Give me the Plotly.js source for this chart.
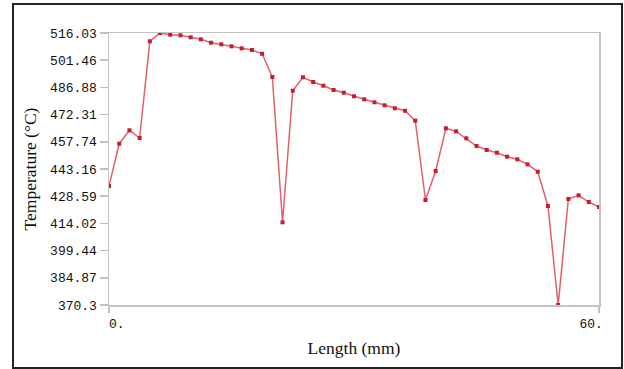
<!DOCTYPE html>
<html>
<head>
<meta charset="utf-8">
<script src="https://cdn.plot.ly/plotly-3.0.1.min.js"></script>
<style>
  html, body { margin: 0; padding: 0; background: #fff; }
  #wrap { position: relative; width: 624px; height: 369px; }
  #chart { position: absolute; left: 0; top: 0; width: 624px; height: 369px; }
  #frame { position: absolute; left: 12px; top: 3px; width: 611px; height: 366px;
           box-sizing: border-box; border: 2px solid #222; pointer-events: none; }
</style>
</head>
<body>
<div id="wrap">
  <div id="chart"></div>
  <div id="frame"></div>
</div>
<script>
// Length positions (mm), 49 samples across 0..60
const lengthMm = [0, 1.25, 2.5, 3.75, 5, 6.25, 7.5, 8.75, 10, 11.25, 12.5, 13.75, 15, 16.25, 17.5, 18.75,
  20, 21.25, 22.5, 23.75, 25, 26.25, 27.5, 28.75, 30, 31.25, 32.5, 33.75, 35, 36.25, 37.5, 38.75,
  40, 41.25, 42.5, 43.75, 45, 46.25, 47.5, 48.75, 50, 51.25, 52.5, 53.75, 55, 56.25, 57.5, 58.75, 60];

// Temperature (°C)
const temperatureC = [434.06, 456.72, 463.90, 459.77, 511.58, 516.03, 515.12, 514.80, 513.73, 512.65,
  510.83, 509.98, 508.90, 507.83, 506.92, 504.89, 492.46, 414.61, 485.12, 492.30,
  489.78, 487.79, 485.49, 484.04, 482.12, 480.51, 478.90, 477.29, 475.69, 474.35,
  469.04, 426.56, 442.09, 464.97, 463.36, 459.61, 455.49, 453.34, 451.90, 449.76,
  448.36, 445.68, 441.72, 423.34, 370.30, 427.09, 429.07, 425.48, 422.81];

// Axis ticks
const yTickVals = [516.03, 501.46, 486.88, 472.31, 457.74, 443.16, 428.59, 414.02, 399.44, 384.87, 370.3];
const yTickText = ["516.03", "501.46", "486.88", "472.31", "457.74", "443.16", "428.59", "414.02", "399.44", "384.87", "370.3"];
const xTickVals = [0, 60];
const xTickText = ["\u00a0\u00a00.", "60.\u00a0\u00a0"];

const trace = {
  x: lengthMm,
  y: temperatureC,
  type: 'scatter',
  mode: 'lines+markers',
  line: { color: 'rgba(215,45,60,0.75)', width: 1.5 },
  marker: { color: '#c41e2a', size: 4, symbol: 'square' },
  hoverinfo: 'x+y',
  showlegend: false
};

const tickFont = { family: '"Liberation Mono", "DejaVu Sans Mono", monospace', size: 13, color: '#111' };
const titleFont = { family: '"Liberation Serif", "DejaVu Serif", serif', size: 17.5, color: '#111' };

const layout = {
  width: 624,
  height: 369,
  margin: { l: 109, r: 25, t: 33, b: 64 },
  paper_bgcolor: '#ffffff',
  plot_bgcolor: '#ffffff',
  xaxis: {
    range: [0, 60],
    tickvals: xTickVals,
    ticktext: xTickText,
    ticks: 'outside',
    ticklen: 6,
    tickcolor: '#c0c0c0',
    tickwidth: 1.5,
    showgrid: false,
    zeroline: false,
    showline: true,
    linecolor: '#c4c4c4',
    linewidth: 1.5,
    mirror: true,
    tickfont: tickFont,
    title: { text: 'Length (mm)', font: titleFont, standoff: 10 }
  },
  yaxis: {
    range: [370.3, 516.03],
    tickvals: yTickVals,
    ticktext: yTickText,
    ticks: 'outside',
    ticklen: 8,
    tickcolor: '#c0c0c0',
    tickwidth: 1.5,
    showgrid: false,
    zeroline: false,
    showline: true,
    linecolor: '#c4c4c4',
    linewidth: 1.5,
    mirror: true,
    tickfont: tickFont,
    title: { text: 'Temperature (°C)', font: titleFont, standoff: 9 }
  }
};

Plotly.newPlot('chart', [trace], layout, { displayModeBar: false, staticPlot: true });
</script>
</body>
</html>
